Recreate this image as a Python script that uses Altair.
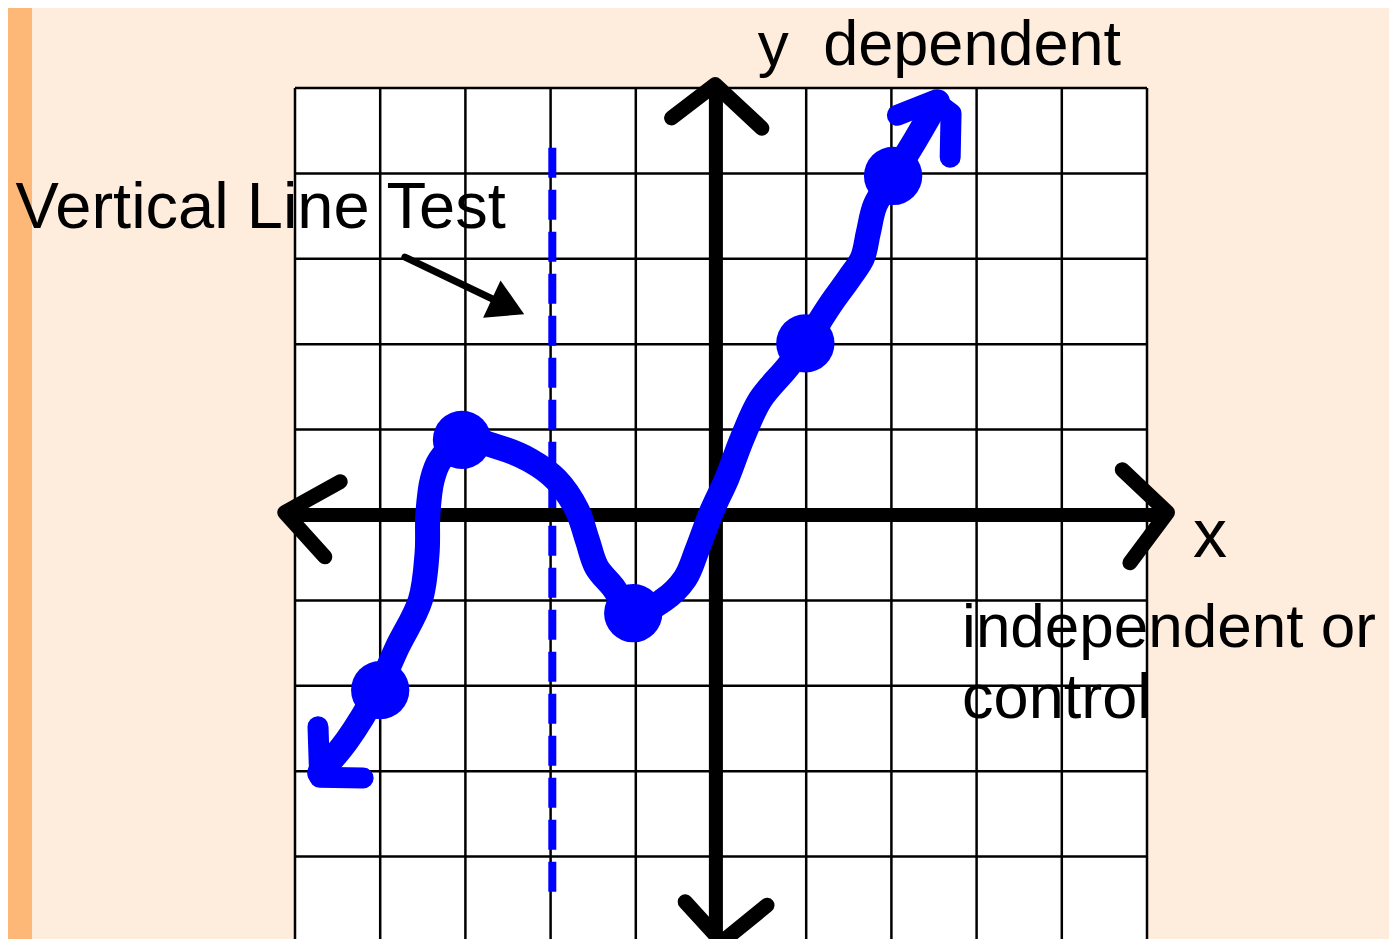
import altair as alt
import pandas as pd

# ---------------- data (grid units: one square = 1) ----------------
grid_ticks = list(range(-5, 6))

# hand-drawn blue function curve
curve_x = [-4.71, -4.39, -4.03, -3.80, -3.53, -3.45, -3.44, -3.39, -3.30, -3.04,
           -2.63, -2.24, -1.93, -1.69, -1.57, -1.46, -1.27, -1.03, -0.68, -0.42,
           -0.28, -0.11, 0.07, 0.25, 0.46, 0.78, 0.99, 1.28, 1.51, 1.66,
           1.73, 1.81, 2.02, 2.28, 2.54]
curve_y = [-3.02, -2.64, -2.05, -1.55, -1.00, -0.45, 0.02, 0.41, 0.64, 0.88,
           0.80, 0.64, 0.41, 0.06, -0.29, -0.61, -0.84, -1.15, -1.00, -0.74,
           -0.41, 0.04, 0.43, 0.90, 1.35, 1.73, 2.01, 2.46, 2.78, 3.01,
           3.31, 3.63, 3.97, 4.39, 4.84]

# plotted points
dots_x = [-4.0, -3.04, -1.03, 0.99, 2.02]
dots_y = [-2.05, 0.88, -1.15, 2.01, 3.97]

# blue arrow heads at the curve ends
blue_head_grp = ["bl", "bl", "bl", "tr", "tr", "tr", "tr"]
blue_head_x = [-4.73, -4.71, -4.20, 2.07, 2.50, 2.70, 2.69]
blue_head_y = [-2.48, -3.07, -3.08, 4.68, 4.85, 4.70, 4.19]

# black coordinate axes (with arrow heads)
axis_grp = ["xaxis", "xaxis", "yaxis", "yaxis"]
axis_x = [-5.12, 5.22, -0.06, -0.06]
axis_y = [0.0, 0.0, 5.03, -5.0]

head_grp = ["L", "L", "L", "R", "R", "R", "T", "T", "T", "B", "B", "B"]
head_x = [-4.47, -5.12, -4.65, 4.71, 5.24, 4.80, -0.58, -0.07, 0.48, -0.42, 0.01, 0.54]
head_y = [0.39, 0.03, -0.49, 0.53, 0.03, -0.56, 4.65, 5.04, 4.53, -4.53, -5.0, -4.57]

# vertical line test (dashed)
vlt_x = [-1.98]
vlt_y_top = [4.30]
vlt_y_bot = [-4.43]

# annotation arrow
note_x = [-3.71, -2.62]
note_y = [3.02, 2.50]
note_head_x = [-2.50]
note_head_y = [2.44]

# labels
label_text = ["Vertical Line Test", "y", "dependent", "x", "independent or", "control"]
label_x = [-8.28, 0.43, 1.20, 5.54, 2.83, 2.83]
label_y = [3.36, 5.27, 5.27, -0.49, -1.55, -2.38]
label_size = [65, 62, 63, 68, 62, 63]

# ---------------- scales ----------------
W, H = 1381, 931
PX = 85.2   # pixels per grid unit (x)
PY = 85.4   # pixels per grid unit (y)
X0, Y0 = 721, 515   # page position of the origin
x_dom = [(8 - X0) / PX, (8 + W - X0) / PX]
y_dom = [(Y0 - (8 + H)) / PY, (Y0 - 8) / PY]
xs = alt.Scale(domain=x_dom, nice=False, zero=False)
ys = alt.Scale(domain=y_dom, nice=False, zero=False)

PEACH = "#FEEDDD"
ORANGE = "#FDB878"
BLUE = "#0000FF"


def X(f="x"):
    return alt.X(f"{f}:Q", scale=xs, axis=None)


def Y(f="y"):
    return alt.Y(f"{f}:Q", scale=ys, axis=None)


# left orange strip
strip = alt.Chart(pd.DataFrame({"x": [x_dom[0]], "x2": [(32 - X0) / PX],
                                "y": [y_dom[0]], "y2": [y_dom[1]]})).mark_rect(
    color=ORANGE).encode(x=X(), x2="x2:Q", y=Y(), y2="y2:Q")

# white grid paper
paper = alt.Chart(pd.DataFrame({"x": [-5], "x2": [5], "y": [-5], "y2": [5]})).mark_rect(
    color="white").encode(x=X(), x2="x2:Q", y=Y(), y2="y2:Q")

vgrid = alt.Chart(pd.DataFrame({"x": grid_ticks, "y": [-5] * 11, "y2": [5] * 11})).mark_rule(
    color="black", strokeWidth=2.5).encode(x=X(), y=Y(), y2="y2:Q")
hgrid = alt.Chart(pd.DataFrame({"y": grid_ticks, "x": [-5] * 11, "x2": [5] * 11})).mark_rule(
    color="black", strokeWidth=2.5).encode(y=Y(), x=X(), x2="x2:Q")

axes = alt.Chart(pd.DataFrame({"g": axis_grp, "x": axis_x, "y": axis_y,
                               "o": list(range(4))})).mark_line(
    color="black", strokeWidth=14, strokeCap="butt").encode(
    x=X(), y=Y(), detail="g:N", order="o:Q")

heads = alt.Chart(pd.DataFrame({"g": head_grp, "x": head_x, "y": head_y,
                                "o": list(range(len(head_x)))})).mark_line(
    color="black", strokeWidth=15, strokeCap="round", strokeJoin="round").encode(
    x=X(), y=Y(), detail="g:N", order="o:Q")

vlt = alt.Chart(pd.DataFrame({"x": vlt_x, "y": vlt_y_top, "y2": vlt_y_bot})).mark_rule(
    color=BLUE, strokeWidth=8, strokeDash=[30, 12]).encode(x=X(), y=Y(), y2="y2:Q")

curve = alt.Chart(pd.DataFrame({"x": curve_x, "y": curve_y,
                                "o": list(range(len(curve_x)))})).mark_line(
    color=BLUE, strokeWidth=25, strokeCap="round", strokeJoin="round",
    interpolate="catmull-rom").encode(x=X(), y=Y(), order="o:Q")

dots = alt.Chart(pd.DataFrame({"x": dots_x, "y": dots_y})).mark_circle(
    color=BLUE, size=3400, opacity=1).encode(x=X(), y=Y())

blue_heads = alt.Chart(pd.DataFrame({"g": blue_head_grp, "x": blue_head_x, "y": blue_head_y,
                                     "o": list(range(len(blue_head_x)))})).mark_line(
    color=BLUE, strokeWidth=21, strokeCap="round", strokeJoin="round").encode(
    x=X(), y=Y(), detail="g:N", order="o:Q")

note_line = alt.Chart(pd.DataFrame({"x": note_x, "y": note_y, "o": [0, 1]})).mark_line(
    color="black", strokeWidth=7, strokeCap="round").encode(x=X(), y=Y(), order="o:Q")
note_head = alt.Chart(pd.DataFrame({"x": note_head_x, "y": note_head_y})).mark_point(
    shape="triangle-right", filled=True, color="black", size=1700, angle=25,
    opacity=1).encode(x=X(), y=Y())

labels = alt.Chart(pd.DataFrame({"t": label_text, "x": label_x, "y": label_y,
                                 "s": label_size})).mark_text(
    align="left", baseline="alphabetic", font="Liberation Sans", color="black").encode(
    x=X(), y=Y(), text="t:N", size=alt.Size("s:Q", scale=None, legend=None))

chart = alt.layer(
    strip, paper, vgrid, hgrid, vlt, axes, heads, curve, dots, blue_heads,
    note_line, note_head, labels
).properties(
    width=W, height=H, padding=0, autosize=alt.AutoSizeParams(type="none"),
    background=PEACH
).configure_view(strokeWidth=0)

chart.save("out.html", embed_options={"renderer": "svg", "actions": False})
